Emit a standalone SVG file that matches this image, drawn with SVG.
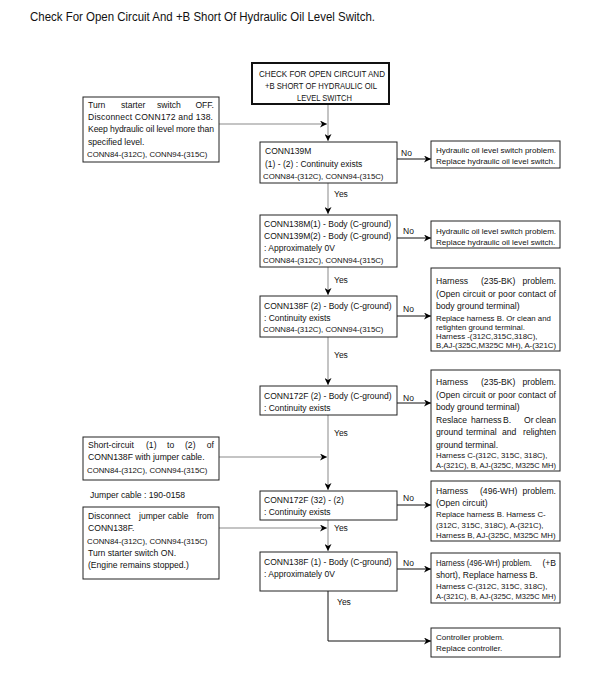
<svg xmlns="http://www.w3.org/2000/svg" width="591" height="675" viewBox="0 0 591 675">
<style>
text{font-family:"Liberation Sans",Arial,sans-serif;fill:#111}
.t{font-size:12px}
.b{font-size:8.5px}
.s{font-size:7.8px}
.r{font-size:8px}
.h{font-size:8.6px}
.e{text-anchor:end}
.box{fill:#fff;stroke:#222;stroke-width:1}
.top{fill:#fff;stroke:#111;stroke-width:2}
.g{fill:none;stroke:#c4c4c4;stroke-width:2}
.k{fill:none;stroke:#111;stroke-width:1}
</style>
<defs>
<marker id="ah" viewBox="0 0 10 10" refX="10" refY="5" markerWidth="8" markerHeight="7" markerUnits="userSpaceOnUse" orient="auto"><path d="M0,0 L10,5 L0,10 L3,5 z" fill="#000"/></marker>
</defs>
<rect width="591" height="675" fill="#fff"/>
<text class="t" x="30" y="21" textLength="345" lengthAdjust="spacingAndGlyphs">Check For Open Circuit And +B Short Of Hydraulic Oil Level Switch.</text>

<g id="connectors">
<path class="g" d="M328,104 V141" marker-end="url(#ah)"/>
<path class="g" d="M219,124 H327" marker-end="url(#ah)"/>
<path class="g" d="M328,183 V214" marker-end="url(#ah)"/>
<path class="g" d="M328,267 V295" marker-end="url(#ah)"/>
<path class="g" d="M328,337 V385" marker-end="url(#ah)"/>
<path class="g" d="M328,415 V490" marker-end="url(#ah)"/>
<path class="g" d="M219,457 H327" marker-end="url(#ah)"/>
<path class="g" d="M328,520 V551" marker-end="url(#ah)"/>
<path class="g" d="M219,528 H327" marker-end="url(#ah)"/>
<path class="k" d="M328,591 V641 H431" marker-end="url(#ah)"/>
<path class="k" d="M397,159 H431" marker-end="url(#ah)"/>
<path class="k" d="M397,238 H431" marker-end="url(#ah)"/>
<path class="k" d="M397,316 H431" marker-end="url(#ah)"/>
<path class="k" d="M397,403 H431" marker-end="url(#ah)"/>
<path class="k" d="M397,505 H431" marker-end="url(#ah)"/>
<path class="k" d="M397,569 H431" marker-end="url(#ah)"/>
<text class="b" x="401" y="156">No</text>
<text class="b" x="403" y="234">No</text>
<text class="b" x="403" y="312">No</text>
<text class="b" x="403" y="401">No</text>
<text class="b" x="403" y="501">No</text>
<text class="b" x="403" y="566">No</text>
<text class="b" x="334" y="197">Yes</text>
<text class="b" x="334" y="283">Yes</text>
<text class="b" x="334" y="358">Yes</text>
<text class="b" x="334" y="436">Yes</text>
<text class="b" x="334" y="531">Yes</text>
<text class="b" x="337" y="605">Yes</text>
</g>

<g id="start">
<rect class="top" x="252" y="63" width="137" height="41"/>
<text class="h" x="259" y="77" textLength="126" lengthAdjust="spacingAndGlyphs">CHECK FOR OPEN CIRCUIT AND</text>
<text class="h" x="265" y="89" textLength="112" lengthAdjust="spacingAndGlyphs">+B SHORT OF HYDRAULIC OIL</text>
<text class="h" x="297" y="101" textLength="55" lengthAdjust="spacingAndGlyphs">LEVEL SWITCH</text>
</g>

<g id="prep1">
<rect class="box" x="83" y="97" width="136" height="65"/>
<text class="h" x="88" y="108">Turn</text>
<text class="h" x="121" y="108">starter</text>
<text class="h" x="157" y="108">switch</text>
<text class="h e" x="214" y="108">OFF.</text>
<text class="h" x="88" y="120" textLength="125" lengthAdjust="spacing">Disconnect CONN172 and 138.</text>
<text class="h" x="88" y="132" textLength="126" lengthAdjust="spacing">Keep hydraulic oil level more than</text>
<text class="h" x="88" y="145">specified level.</text>
<text class="s" x="87" y="157">CONN84-(312C), CONN94-(315C)</text>
</g>

<g id="check1">
<rect class="box" x="260" y="142" width="137" height="41"/>
<text class="b" x="265" y="154">CONN139M</text>
<text class="b" x="265" y="167">(1) - (2) : Continuity exists</text>
<text class="s" x="263" y="179">CONN84-(312C), CONN94-(315C)</text>
</g>
<g id="result1">
<rect class="box" x="431" y="141" width="129" height="27"/>
<text class="r" x="436" y="153">Hydraulic oil level switch problem.</text>
<text class="r" x="436" y="164">Replace hydraulic oil level switch.</text>
</g>

<g id="check2">
<rect class="box" x="260" y="215" width="137" height="52"/>
<text class="b" x="264" y="227">CONN138M(1) - Body (C-ground)</text>
<text class="b" x="264" y="239">CONN139M(2) - Body (C-ground)</text>
<text class="b" x="264" y="251">: Approximately 0V</text>
<text class="s" x="263" y="263">CONN84-(312C), CONN94-(315C)</text>
</g>
<g id="result2">
<rect class="box" x="431" y="221" width="129" height="27"/>
<text class="r" x="436" y="234">Hydraulic oil level switch problem.</text>
<text class="r" x="436" y="245">Replace hydraulic oil level switch.</text>
</g>

<g id="check3">
<rect class="box" x="260" y="296" width="137" height="41"/>
<text class="b" x="264" y="309">CONN138F (2) - Body (C-ground)</text>
<text class="b" x="264" y="321">: Continuity exists</text>
<text class="s" x="263" y="332">CONN84-(312C), CONN94-(315C)</text>
</g>
<g id="result3">
<rect class="box" x="431" y="268" width="129" height="83"/>
<text class="h" x="436" y="284">Harness</text>
<text class="h" x="481" y="284">(235-BK)</text>
<text class="h e" x="556" y="284">problem.</text>
<text class="h" x="436" y="297" textLength="120" lengthAdjust="spacing">(Open circuit or poor contact of</text>
<text class="h" x="436" y="309">body ground terminal)</text>
<text class="s" x="436" y="321">Replace harness B. Or clean and</text>
<text class="s" x="436" y="330">retighten ground terminal.</text>
<text class="s" x="436" y="339">Harness -(312C,315C,318C),</text>
<text class="s" x="436" y="348">B,AJ-(325C,M325C MH), A-(321C)</text>
</g>

<g id="check4">
<rect class="box" x="260" y="386" width="137" height="29"/>
<text class="b" x="264" y="399">CONN172F (2) - Body (C-ground)</text>
<text class="b" x="264" y="411">: Continuity exists</text>
</g>
<g id="result4">
<rect class="box" x="431" y="370" width="129" height="101"/>
<text class="h" x="436" y="385">Harness</text>
<text class="h" x="481" y="385">(235-BK)</text>
<text class="h e" x="556" y="385">problem.</text>
<text class="h" x="436" y="398" textLength="120" lengthAdjust="spacing">(Open circuit or poor contact of</text>
<text class="h" x="436" y="410">body ground terminal)</text>
<text class="h" x="436" y="423">Reslace</text>
<text class="h" x="471" y="423">harness</text>
<text class="h" x="503" y="423">B.</text>
<text class="h" x="524" y="423">Or</text>
<text class="h e" x="556" y="423">clean</text>
<text class="h" x="436" y="435">ground</text>
<text class="h" x="466" y="435">terminal</text>
<text class="h" x="502" y="435">and</text>
<text class="h e" x="556" y="435">relighten</text>
<text class="h" x="436" y="448">ground terminal.</text>
<text class="s" x="436" y="458">Harness C-(312C, 315C, 318C),</text>
<text class="s" x="436" y="468" textLength="120" lengthAdjust="spacingAndGlyphs">A-(321C), B, AJ-(325C, M325C MH)</text>
</g>

<g id="prep2">
<rect class="box" x="83" y="437" width="136" height="43"/>
<text class="h" x="88" y="448">Short-circuit</text>
<text class="h" x="146" y="448">(1)</text>
<text class="h" x="167" y="448">to</text>
<text class="h" x="185" y="448">(2)</text>
<text class="h e" x="214" y="448">of</text>
<text class="h" x="88" y="460">CONN138F with jumper cable.</text>
<text class="s" x="87" y="473">CONN84-(312C), CONN94-(315C)</text>
</g>
<text id="jumper" class="h" x="90" y="498">Jumper cable : 190-0158</text>

<g id="check5">
<rect class="box" x="260" y="491" width="137" height="29"/>
<text class="b" x="264" y="503">CONN172F (32) - (2)</text>
<text class="b" x="264" y="515">: Continuity exists</text>
</g>
<g id="result5">
<rect class="box" x="431" y="481" width="129" height="60"/>
<text class="h" x="436" y="494">Harness</text>
<text class="h" x="480" y="494">(496-WH)</text>
<text class="h e" x="556" y="494">problem.</text>
<text class="h" x="436" y="506">(Open circuit)</text>
<text class="s" x="436" y="517">Replace harness B. Harness C-</text>
<text class="s" x="436" y="528">(312C, 315C, 318C), A-(321C),</text>
<text class="s" x="436" y="538">Harness B, AJ-(325C, M325C MH)</text>
</g>

<g id="prep3">
<rect class="box" x="83" y="507" width="136" height="72"/>
<text class="h" x="88" y="519">Disconnect</text>
<text class="h" x="139" y="519">jumper</text>
<text class="h" x="168" y="519">cable</text>
<text class="h e" x="214" y="519">from</text>
<text class="h" x="88" y="531">CONN138F.</text>
<text class="s" x="87" y="544">CONN84-(312C), CONN94-(315C)</text>
<text class="h" x="88" y="556">Turn starter switch ON.</text>
<text class="h" x="88" y="568">(Engine remains stopped.)</text>
</g>

<g id="check6">
<rect class="box" x="260" y="552" width="137" height="39"/>
<text class="b" x="264" y="565">CONN138F (1) - Body (C-ground)</text>
<text class="b" x="264" y="577">: Approximately 0V</text>
</g>
<g id="result6">
<rect class="box" x="431" y="553" width="129" height="50"/>
<text class="h" x="436" y="566" textLength="96" lengthAdjust="spacingAndGlyphs">Harness (496-WH) problem.</text>
<text class="h e" x="556" y="566">(+B</text>
<text class="h" x="436" y="578">short), Replace harness B.</text>
<text class="s" x="436" y="589">Harness C-(312C, 315C, 318C),</text>
<text class="s" x="436" y="599" textLength="120" lengthAdjust="spacingAndGlyphs">A-(321C), B, AJ-(325C, M325C MH)</text>
</g>

<g id="result7">
<rect class="box" x="431" y="628" width="129" height="29"/>
<text class="r" x="436" y="640">Controller problem.</text>
<text class="r" x="436" y="651">Replace controller.</text>
</g>
</svg>
